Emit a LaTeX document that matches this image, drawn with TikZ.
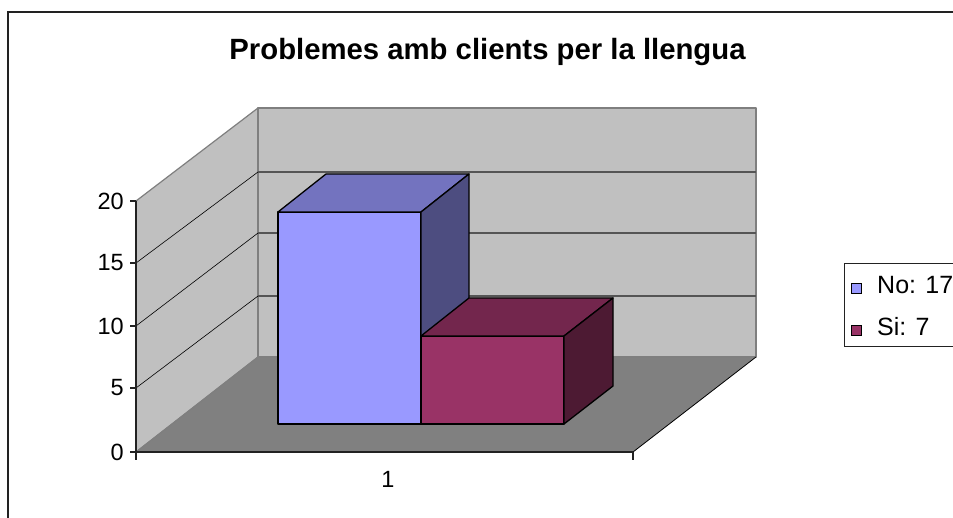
\documentclass[tikz,border=0pt]{standalone}
\usepackage{fontspec}
\setmainfont{Liberation Sans}
\definecolor{wallgray}{HTML}{C0C0C0}
\definecolor{floorgray}{HTML}{808080}
\definecolor{edgegray}{HTML}{7F7F7F}
\definecolor{gridgray}{HTML}{555555}
\definecolor{axisdark}{HTML}{222222}
\definecolor{bluefront}{HTML}{9999FF}
\definecolor{bluetop}{HTML}{7373BF}
\definecolor{blueside}{HTML}{4D4D80}
\definecolor{redfront}{HTML}{993366}
\definecolor{redtop}{HTML}{73264D}
\definecolor{redside}{HTML}{4D1A33}
\begin{document}
\begin{tikzpicture}[x=1pt,y=-1pt,
  wall/.style={fill=wallgray, draw=edgegray, line width=1.2pt, line join=round},
  floorface/.style={fill=floorgray},
  backgrid/.style={draw=gridgray, line width=1.2pt},
  sidegrid/.style={draw=black, line width=0.6pt},
  axisline/.style={draw=axisdark, line width=1.2pt},
  barface/.style={draw=black, line width=1.3pt, line join=round},
  ticklbl/.style={font=\fontsize{23.5}{23.5}\selectfont, anchor=east, inner sep=0pt},
  legtext/.style={font=\fontsize{25}{25}\selectfont, anchor=base west, inner sep=0pt},
  legsq/.style={draw=black, line width=0.8pt, minimum size=9.5pt, inner sep=0pt}]
\useasboundingbox (0,0) rectangle (953,518);
\fill[white] (0,0) rectangle (953,518);
% outer chart frame
\draw[draw=axisdark, line width=1.4pt] (8,530) -- (8,12) -- (965,12);
% title
\node[font=\bfseries\fontsize{29.3}{29.3}\selectfont, anchor=base, inner sep=0pt] (title) at (487.5,60) {Problemes amb clients per la llengua};
% walls
\coordinate (A) at (136,452);
\coordinate (B) at (136,201);
\coordinate (C) at (258,108);
\coordinate (D) at (258,357);
\coordinate (E) at (756,108);
\coordinate (F) at (756,357);
\coordinate (G) at (633,452);
\filldraw[wall] (A) -- (B) -- (C) -- (D) -- cycle;
\filldraw[wall] (C) rectangle (F);
\fill[floorface] (A) -- (G) -- (F) -- (D) -- cycle;
\draw[edgegray, line width=1.2pt] (D) -- (F);
\draw[edgegray, line width=1pt] (A) -- (D);
\draw[black, line width=0.8pt] (G) -- (F);
% gridlines back wall
\foreach \yy in {172,233,296} {\draw[backgrid] (258,\yy) -- (756,\yy);}
% gridlines side wall
\foreach \yy/\yb in {263/172,326/233,388/296} {\draw[sidegrid] (136,\yy) -- (258,\yb);}
% axes
\draw[axisline] (136,201) -- (A) -- (G);
\foreach \yy in {201,263,326,388,452} {\draw[axisline] (130,\yy) -- (136,\yy);}
\draw[axisline] (136,452) -- (136,460);
\draw[axisline] (633,452) -- (633,460);
% tick labels
\node[ticklbl] (t20) at (124,201) {20};
\node[ticklbl] (t15) at (124,263) {15};
\node[ticklbl] (t10) at (124,326) {10};
\node[ticklbl] (t5) at (124,388) {5};
\node[ticklbl] (t0) at (124,452) {0};
\node[font=\fontsize{23.5}{23.5}\selectfont, anchor=base, inner sep=0pt] (cat1) at (388,487) {1};
% blue bar
\filldraw[barface, fill=bluefront] (278,212) rectangle (421,424);
\filldraw[barface, fill=bluetop] (278,212) -- (421,212) -- (469,174) -- (326,174) -- cycle;
\filldraw[barface, fill=blueside] (421,212) -- (469,174) -- (469,386) -- (421,424) -- cycle;
% red bar
\filldraw[barface, fill=redfront] (421,336) rectangle (564,424);
\filldraw[barface, fill=redtop] (421,336) -- (564,336) -- (613,298) -- (469,298) -- cycle;
\filldraw[barface, fill=redside] (564,336) -- (613,298) -- (613,386) -- (564,424) -- cycle;
% legend
\draw[draw=axisdark, line width=1pt, fill=white] (844,347) -- (844,264) -- (965,264) (965,347) -- (844,347);
\node[legsq, fill=bluefront] (sqno) at (856.5,288.5) {};
\node[legsq, fill=redfront] (sqsi) at (856.5,330.5) {};
\node[legtext] (lno) at (877,294) {No: 17};
\node[legtext] (lsi) at (877,336) {Si: 7};
\end{tikzpicture}
\end{document}
